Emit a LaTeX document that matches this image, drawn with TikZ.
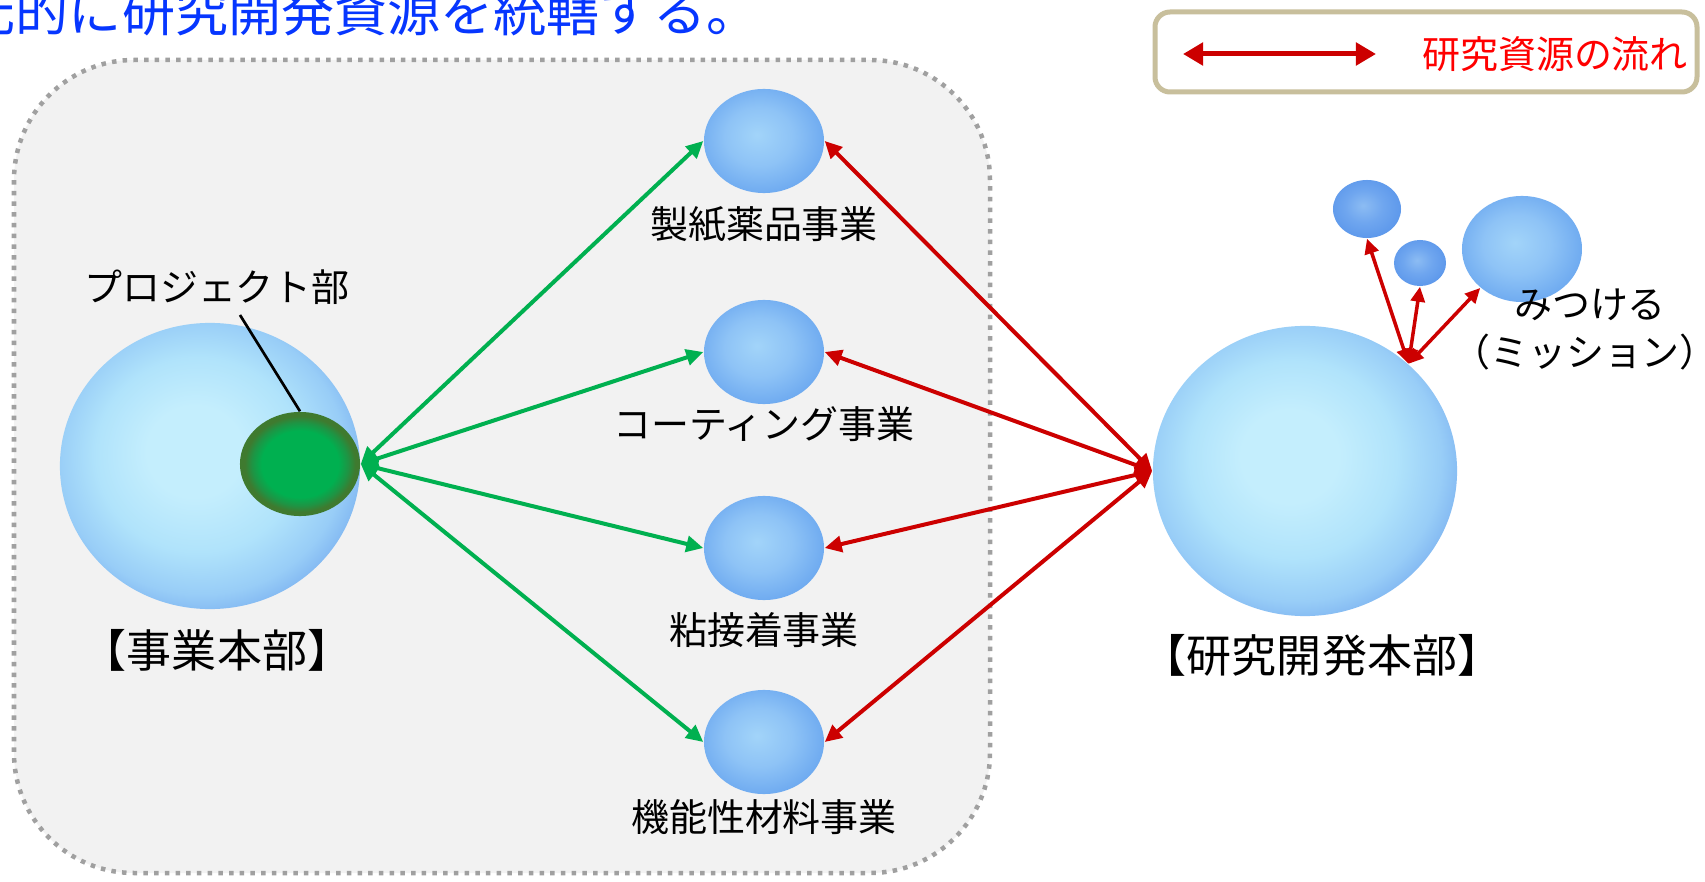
\documentclass[tikz,border=0pt]{standalone}
\usepackage{fontspec}
\setmainfont{Noto Sans CJK JP}
\usetikzlibrary{shapes.geometric,arrows.meta}
\definecolor{bigA}{HTML}{C4EEFD}
\definecolor{bigB}{HTML}{B0E3FB}
\definecolor{bigC}{HTML}{98CDF7}
\definecolor{bigD}{HTML}{7EB4F1}
\definecolor{midA}{HTML}{A2D4F9}
\definecolor{midB}{HTML}{8EC3F6}
\definecolor{midC}{HTML}{6EAAF0}
\definecolor{deepA}{HTML}{8CBCF3}
\definecolor{deepB}{HTML}{6FA6EF}
\definecolor{deepC}{HTML}{5D98EB}
\definecolor{grA}{HTML}{00B050}
\definecolor{grB}{HTML}{1E9444}
\definecolor{grC}{HTML}{3F7A2F}
\definecolor{panel}{HTML}{F2F2F2}
\definecolor{framegray}{HTML}{A0A0A0}
\definecolor{arrowred}{HTML}{CC0000}
\definecolor{arrowgreen}{HTML}{00B050}
\definecolor{legendtan}{HTML}{C8BF9C}
\definecolor{topblue}{HTML}{0636FF}
\pgfdeclareradialshading{bigball}{\pgfpoint{-3bp}{3bp}}{color(0bp)=(bigA); color(8bp)=(bigA); color(17bp)=(bigB); color(24bp)=(bigC); color(28bp)=(bigD); color(50bp)=(bigD)}
\pgfdeclareradialshading{midball}{\pgfpoint{-3bp}{3bp}}{color(0bp)=(midA); color(14bp)=(midB); color(27bp)=(midC); color(50bp)=(midC)}
\pgfdeclareradialshading{deepball}{\pgfpoint{-3bp}{3bp}}{color(0bp)=(deepA); color(14bp)=(deepB); color(27bp)=(deepC); color(50bp)=(deepC)}
\pgfdeclareradialshading{greenball}{\pgfpoint{0bp}{0bp}}{color(0bp)=(grA); color(16bp)=(grA); color(20bp)=(grB); color(23bp)=(grC); color(50bp)=(grC)}
\begin{document}
\begin{tikzpicture}[x=0.01cm,y=-0.01cm,
  ball/.style={ellipse, inner sep=0pt, draw=none},
  lbl/.style={inner sep=0pt, font=\fontsize{10.8}{13}\selectfont},
  biglbl/.style={inner sep=0pt, font=\fontsize{12.8}{15}\selectfont},
  redarrow/.style={draw=arrowred, line width=0.04cm, {Triangle[length=0.17cm,width=0.16cm]}-{Triangle[length=0.17cm,width=0.16cm]}},
  greenarrow/.style={draw=arrowgreen, line width=0.04cm, {Triangle[length=0.17cm,width=0.16cm]}-{Triangle[length=0.17cm,width=0.16cm]}},
  smallred/.style={draw=arrowred, line width=0.035cm, {Triangle[length=0.15cm,width=0.14cm]}-{Triangle[length=0.15cm,width=0.14cm]}},
  legendarrow/.style={draw=arrowred, line width=0.05cm, {Triangle[length=0.2cm,width=0.22cm]}-{Triangle[length=0.2cm,width=0.22cm]}}
]
\fill[white] (0,0) rectangle (1705,882);
\useasboundingbox (0,0) rectangle (1705,882);
% title (cut at the left and top edges)
\begin{scope}
\clip (0,0) rectangle (1705,882);
\node[anchor=base west, inner sep=0pt, text=topblue, font=\fontsize{15.1}{18}\selectfont] (title) at (-38,32) {元的に研究開発資源を統轄する。};
\end{scope}
% dotted panel
\draw[framegray, fill=panel, line width=0.045cm, dash pattern=on 0.045cm off 0.062cm, rounded corners=1.2cm] (14,60) rectangle (990,873);
% legend
\draw[legendtan, fill=white, line width=0.05cm, rounded corners=0.15cm] (1155,12) rectangle (1697,92);
\coordinate (la) at (1183,54);
\coordinate (lb) at (1376,54);
\draw[legendarrow] (la) -- (lb);
\node[lbl, text=red] (lt) at (1555,54) {研究資源の流れ};
% big spheres
\node[ball, minimum width=3cm, minimum height=2.86cm, shading=bigball] (HQ) at (210,466) {};
\node[ball, minimum width=1.2cm, minimum height=1.04cm, shading=greenball] (PJ) at (300,464) {};
\node[ball, minimum width=3.04cm, minimum height=2.9cm, shading=bigball] (RD) at (1305,471) {};
% business spheres
\node[ball, minimum width=1.2cm, minimum height=1.04cm, shading=midball] (M1) at (764,141) {};
\node[ball, minimum width=1.2cm, minimum height=1.04cm, shading=midball] (M2) at (764,352) {};
\node[ball, minimum width=1.2cm, minimum height=1.04cm, shading=midball] (M3) at (764,548) {};
\node[ball, minimum width=1.2cm, minimum height=1.04cm, shading=midball] (M4) at (764,742) {};
% mission spheres
\node[ball, minimum width=0.68cm, minimum height=0.58cm, shading=deepball] (SA) at (1367,209) {};
\node[ball, minimum width=0.52cm, minimum height=0.46cm, shading=deepball] (SB) at (1420,263) {};
\node[ball, minimum width=1.2cm, minimum height=1.06cm, shading=midball] (SC) at (1522,249) {};
% labels
\node[lbl] (pjl) at (217,287) {プロジェクト部};
\node[biglbl] (hql) at (217,650) {【事業本部】};
\node[biglbl] (rdl) at (1322,655) {【研究開発本部】};
\node[lbl] (l1) at (764,224) {製紙薬品事業};
\node[lbl] (l2) at (764,424) {コーティング事業};
\node[lbl] (l3) at (764,630) {粘接着事業};
\node[lbl] (l4) at (764,817) {機能性材料事業};
\node[lbl] (ms1) at (1590,305) {みつける};
\node[lbl] (ms2) at (1585,352) {（ミッション）};
% leader
\coordinate (lead) at (240,315);
\draw[line width=0.027cm] (lead) -- (PJ.north);
% green arrows
\draw[greenarrow] (PJ.east) -- (M1.west);
\draw[greenarrow] (PJ.east) -- (M2.west);
\draw[greenarrow] (PJ.east) -- (M3.west);
\draw[greenarrow] (PJ.east) -- (M4.west);
% red arrows
\draw[redarrow] (RD.west) -- (M1.east);
\draw[redarrow] (RD.west) -- (M2.east);
\draw[redarrow] (RD.west) -- (M3.east);
\draw[redarrow] (RD.west) -- (M4.east);
% mission arrows
\draw[smallred] (RD.46) -- (SA.south);
\draw[smallred] (RD.46) -- (SB.south);
\draw[smallred] (RD.46) -- (SC.223);
\end{tikzpicture}
\end{document}
